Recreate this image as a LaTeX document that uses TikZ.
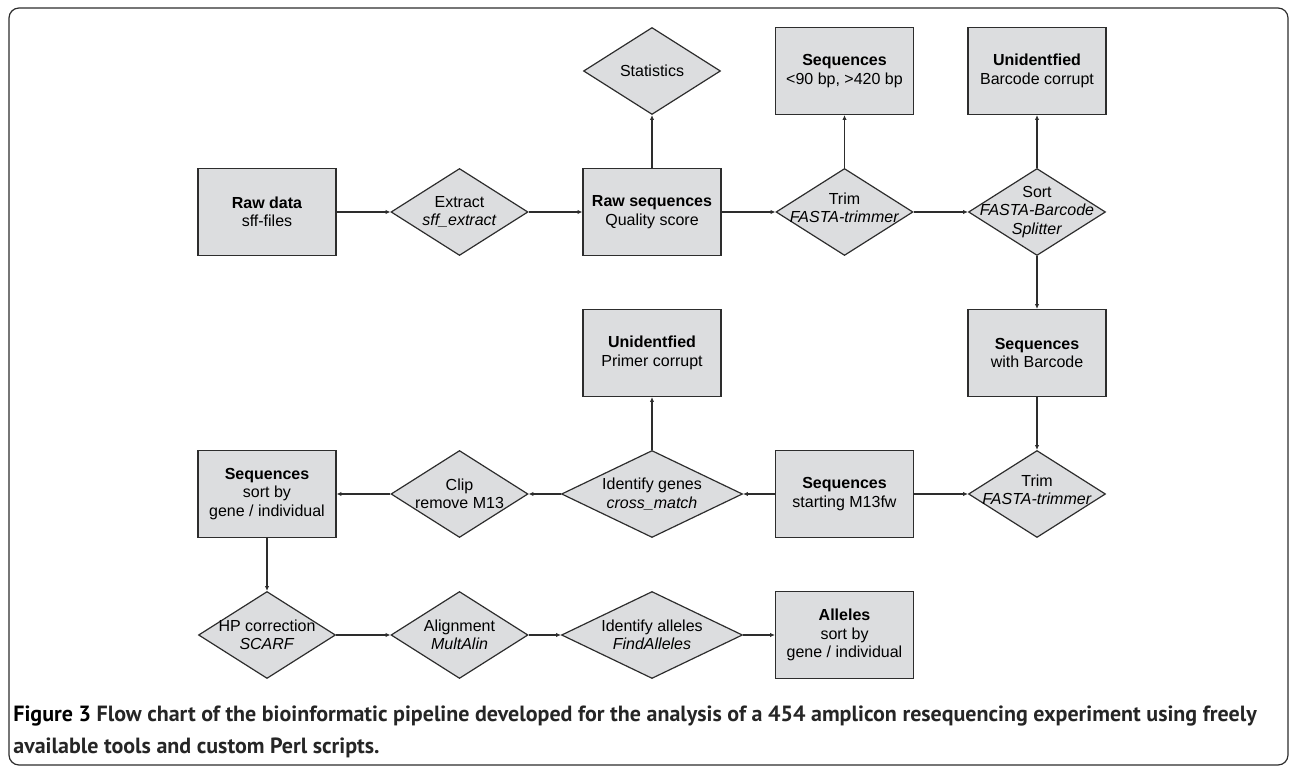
\documentclass[tikz,border=0pt]{standalone}
\usepackage{fontspec}
\setmainfont{Liberation Sans}
\newfontfamily\capfont{PT Sans}
\usetikzlibrary{positioning, arrows.meta, shapes.geometric}
\definecolor{boxfill}{RGB}{220,221,223}
\definecolor{edge}{RGB}{45,45,45}

\begin{document}
\begin{tikzpicture}[
        on grid,
        node distance={70.5pt and 96.25pt},
        font=\fontsize{8}{9.2}\selectfont,
        block/.style={
            rectangle,
            draw=edge,
            fill=boxfill,
            line width=0.6pt,
            align=center,
            inner sep=0pt,
            minimum width=69pt,
            minimum height=43.5pt
        },
        decision/.style={
            diamond,
            draw=edge,
            fill=boxfill,
            line width=0.6pt,
            inner sep=0pt,
            minimum width=68.5pt,
            minimum height=43.5pt
        },
        wide/.style={minimum width=90.5pt},
        dtext/.style={align=center, inner sep=0pt},
        arrow/.style={
            -{Latex[length=2.4pt, width=2.2pt]},
            draw=edge,
            line width=0.6pt
        }
    ]

        \useasboundingbox (0,0) rectangle (645pt,-384.5pt);
        \draw[edge, line width=0.6pt, rounded corners=5pt] (4.5pt,-4pt) rectangle (644pt,-382.5pt);

        \node[block] (rawdata) at (133.5pt,-106pt) {\textbf{Raw data}\\sff-files};
        \node[decision, right=of rawdata, label={[dtext]center:{Extract\\\textit{sff\_extract}}}] (extract) {};
        \node[block, right=of extract] (rawseq) {\textbf{Raw sequences}\\Quality score};
        \node[decision, above=of rawseq, label={[dtext]center:Statistics}] (stats) {};
        \node[decision, right=of rawseq, label={[dtext, yshift=2pt]center:{Trim\\\textit{FASTA-trimmer}}}] (trimlen) {};
        \node[block, above=of trimlen] (seqlen) {\textbf{Sequences}\\<90 bp, >420 bp};
        \node[decision, right=of trimlen, label={[dtext]center:{Sort\\\textit{FASTA-Barcode}\\\textit{Splitter}}}] (sort) {};
        \node[block, above=of sort] (unidbar) {\textbf{Unidentfied}\\Barcode corrupt};
        \node[block, below=of sort] (seqbar) {\textbf{Sequences}\\with Barcode};
        \node[decision, below=of seqbar, label={[dtext, yshift=2pt]center:{Trim\\\textit{FASTA-trimmer}}}] (trimprim) {};
        \node[block, left=of trimprim] (seqstart) {\textbf{Sequences}\\starting M13fw};
        \node[decision, wide, left=of seqstart, label={[dtext]center:{Identify genes\\\textit{cross\_match}}}] (idgenes) {};
        \node[block, above=of idgenes] (unidprim) {\textbf{Unidentfied}\\Primer corrupt};
        \node[decision, left=of idgenes, label={[dtext]center:{Clip\\remove M13}}] (clip) {};
        \node[block, left=of clip] (seqsort) {\textbf{Sequences}\\sort by\\gene / individual};
        \node[decision, below=of seqsort, label={[dtext]center:{HP correction\\\textit{SCARF}}}] (hpcorr) {};
        \node[decision, right=of hpcorr, label={[dtext]center:{Alignment\\\textit{MultAlin}}}] (align) {};
        \node[decision, wide, right=of align, label={[dtext]center:{Identify alleles\\\textit{FindAlleles}}}] (idalleles) {};
        \node[block, right=of idalleles] (alleles) {\textbf{Alleles}\\sort by\\gene / individual};

        \node[anchor=north west, align=left, inner sep=0pt, text=black!85,
              font=\capfont\fontsize{11}{16}\selectfont\bfseries] (caption) at (6.5pt,-352.5pt)
            {\textcolor{black}{Figure 3} Flow chart of the bioinformatic pipeline developed for the analysis of a 454 amplicon resequencing experiment using freely\\available tools and custom Perl scripts.};

        \draw[arrow] (rawdata) -- (extract);
        \draw[arrow] (extract) -- (rawseq);
        \draw[arrow] (rawseq) -- (stats);
        \draw[arrow] (rawseq) -- (trimlen);
        \draw[arrow] (trimlen) -- (seqlen);
        \draw[arrow] (trimlen) -- (sort);
        \draw[arrow] (sort) -- (unidbar);
        \draw[arrow] (sort) -- (seqbar);
        \draw[arrow] (seqbar) -- (trimprim);
        \draw[arrow] (seqstart) -- (trimprim);
        \draw[arrow] (seqstart) -- (idgenes);
        \draw[arrow] (idgenes) -- (unidprim);
        \draw[arrow] (idgenes) -- (clip);
        \draw[arrow] (clip) -- (seqsort);
        \draw[arrow] (seqsort) -- (hpcorr);
        \draw[arrow] (hpcorr) -- (align);
        \draw[arrow] (align) -- (idalleles);
        \draw[arrow] (idalleles) -- (alleles);

    \end{tikzpicture}
\end{document}
